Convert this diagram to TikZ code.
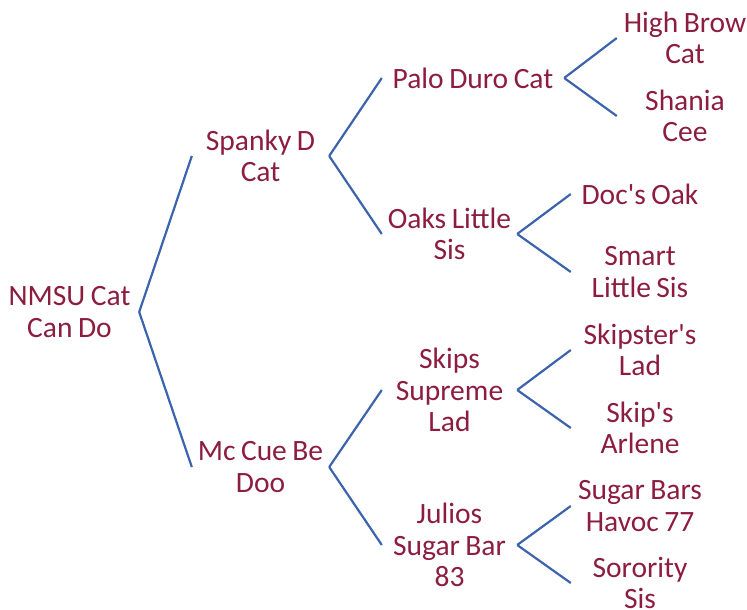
\documentclass[tikz,border=0pt]{standalone}
\usepackage{fontspec}
\setmainfont{Carlito}
\usepackage{tikz}
\definecolor{horsered}{RGB}{140,29,64}
\definecolor{linkblue}{RGB}{59,100,173}
\tikzset{horse/.style={shape=rectangle,draw=none,fill=none,inner sep=0pt,align=center,text=horsered,font=\fontsize{29.5}{31.5}\selectfont},
         link/.style={draw=linkblue,line width=2.2pt}}
\newcommand{\horse}[5]{\node[horse,text width=#4pt] (#1) at ( #2 , #3 ) {\spaceskip=5.5pt\relax #5};}
\newcommand{\link}[2]{\draw[link] (#1.east) -- (#2.west);}

\begin{document}
\begin{tikzpicture}[x=1pt,y=-1pt]
        \useasboundingbox (0,0) rectangle (747,610);
        % column 1
        \horse{root}{69.5}{312}{139}{NMSU Cat\\Can Do}
        % column 2
        \horse{spanky}{260.5}{156}{137}{Spanky D\\Cat}
        \horse{mccue}{260.5}{467}{137}{Mc Cue Be\\Doo}
        % column 3
        \horse{palo}{473}{78}{182}{Palo Duro Cat}
        \horse{oaks}{449.5}{234}{135}{Oaks Little\\Sis}
        \horse{skips}{449.5}{390}{135}{Skips\\Supreme\\Lad}
        \horse{julios}{449.5}{545}{135}{Julios\\Sugar Bar\\83}
        % column 4
        \horse{highbrow}{685}{38}{136}{High Brow\\Cat}
        \horse{shania}{685}{116}{136}{Shania\\Cee}
        \horse{docsoak}{640}{194}{138}{Doc\textquotesingle s Oak}
        \horse{smart}{640}{272}{138}{Smart\\Little Sis}
        \horse{skipster}{640}{350}{138}{Skipster\textquotesingle s\\Lad}
        \horse{arlene}{640}{428}{138}{Skip\textquotesingle s\\Arlene}
        \horse{sugarbars}{640}{506}{138}{Sugar Bars\\Havoc 77}
        \horse{sorority}{640}{583}{138}{Sorority\\Sis}

        % links
        \link{root}{spanky}
        \link{root}{mccue}
        \link{spanky}{palo}
        \link{spanky}{oaks}
        \link{mccue}{skips}
        \link{mccue}{julios}
        \link{palo}{highbrow}
        \link{palo}{shania}
        \link{oaks}{docsoak}
        \link{oaks}{smart}
        \link{skips}{skipster}
        \link{skips}{arlene}
        \link{julios}{sugarbars}
        \link{julios}{sorority}
\end{tikzpicture}
\end{document}
